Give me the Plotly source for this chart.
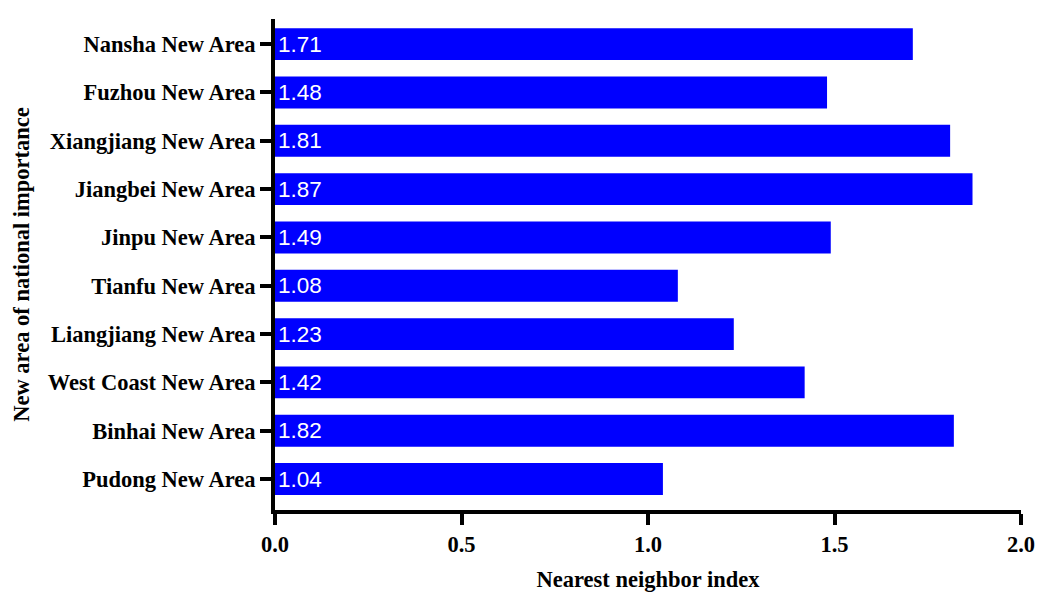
import plotly.graph_objects as go

categories = ["Pudong New Area", "Binhai New Area", "West Coast New Area",
              "Liangjiang New Area", "Tianfu New Area", "Jinpu New Area",
              "Jiangbei New Area", "Xiangjiang New Area", "Fuzhou New Area",
              "Nansha New Area"]
values = [1.04, 1.82, 1.42, 1.23, 1.08, 1.49, 1.87, 1.81, 1.48, 1.71]
x_ticks = [0.0, 0.5, 1.0, 1.5, 2.0]
x_tick_labels = ["0.0", "0.5", "1.0", "1.5", "2.0"]

serif = "Liberation Serif, Times New Roman, serif"
sans = "Liberation Sans, Arial, sans-serif"

fig = go.Figure(go.Bar(
    y=categories, x=values, orientation="h",
    marker=dict(color="#0000FF", line=dict(width=0)),
    width=0.66,
    text=[f"{v:.2f}" for v in values],
    textposition="inside", insidetextanchor="start",
    textfont=dict(family=sans, size=22.5, color="white"),
    constraintext="none",
    cliponaxis=False,
))

fig.update_layout(
    width=1037, height=595,
    margin=dict(l=275, r=16, t=19, b=85),
    plot_bgcolor="white", paper_bgcolor="white",
    showlegend=False,
    font=dict(family=serif, color="black"),
    xaxis=dict(
        range=[0, 2], tickvals=x_ticks, ticktext=x_tick_labels,
        automargin=False,
        showline=True, linewidth=4, linecolor="black",
        ticks="outside", ticklen=11, tickwidth=4, tickcolor="black",
        showgrid=False, zeroline=False,
        tickfont=dict(family=serif, size=22.5, color="black", weight="bold"),
        title=dict(text="<b>Nearest neighbor index</b>",
                   font=dict(family=serif, size=22.5, color="black"), standoff=16),
    ),
    yaxis=dict(
        range=[-0.64, 9.52],
        automargin=False,
        showline=True, linewidth=4, linecolor="black",
        ticks="outside", ticklen=11, tickwidth=4, tickcolor="black",
        showgrid=False, zeroline=False,
        tickfont=dict(family=serif, size=22.5, color="black", weight="bold"),
        title=dict(text="<b>New area of national importance</b>",
                   font=dict(family=serif, size=22.5, color="black"), standoff=13),
    ),
)

fig.write_html(
    "out.html",
    config={"displayModeBar": False},
    post_script="document.body.style.margin='0';document.body.style.overflow='hidden';",
)
